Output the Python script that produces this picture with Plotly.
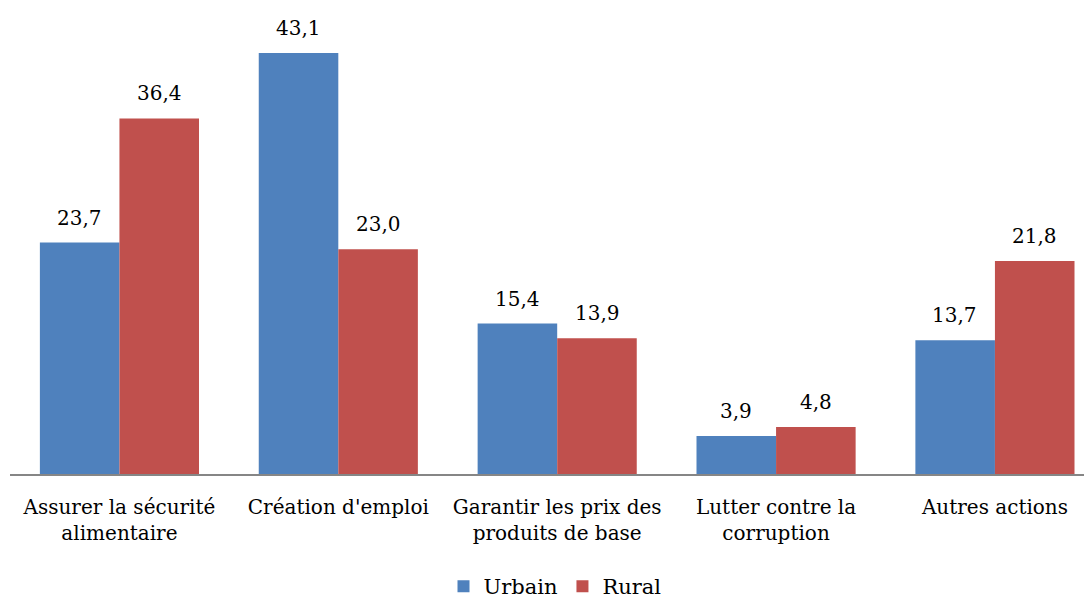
import plotly.graph_objects as go

categories = [
    "Assurer la sécurité<br>alimentaire",
    "Création d'emploi",
    "Garantir les prix des<br>produits de base",
    "Lutter contre la<br>corruption",
    "Autres actions",
]
urbain = [23.7, 43.1, 15.4, 3.9, 13.7]
rural = [36.4, 23.0, 13.9, 4.8, 21.8]

BLUE = "#4F81BD"
RED = "#C0504D"
FONT = "DejaVu Serif"


def fr(v):
    return f"{v:.1f}".replace(".", ",")


fig = go.Figure()
fig.add_trace(go.Bar(name="Urbain", x=categories, y=urbain, marker_color=BLUE,
                     marker_line_width=0))
fig.add_trace(go.Bar(name="Rural", x=categories, y=rural, marker_color=RED,
                     marker_line_width=0))

# value labels above each bar
for i, cat in enumerate(categories):
    for vals, shift in ((urbain, -40), (rural, 40)):
        fig.add_annotation(x=cat, y=vals[i], text=fr(vals[i]), showarrow=False,
                           xshift=shift, yshift=11, yanchor="bottom",
                           font=dict(family=FONT, size=20, color="black"))

fig.update_layout(
    width=1092, height=599,
    margin=dict(l=2, r=0, t=5, b=126),
    barmode="group", bargap=0.273, bargroupgap=0,
    plot_bgcolor="white", paper_bgcolor="white",
    font=dict(family=FONT, size=20, color="black"),
    showlegend=True,
    legend=dict(orientation="h", x=0.5, xanchor="center", y=-0.2, yanchor="top",
                font=dict(family=FONT, size=21)),
    xaxis=dict(range=[-0.5, 4.48], showline=True, linecolor="#868686", linewidth=2,
               ticks="", ticklabelstandoff=14, tickfont=dict(family=FONT, size=20)),
    yaxis=dict(range=[0, 47.2], visible=False, showgrid=False, zeroline=False),
)

fig.write_html("out.html")
